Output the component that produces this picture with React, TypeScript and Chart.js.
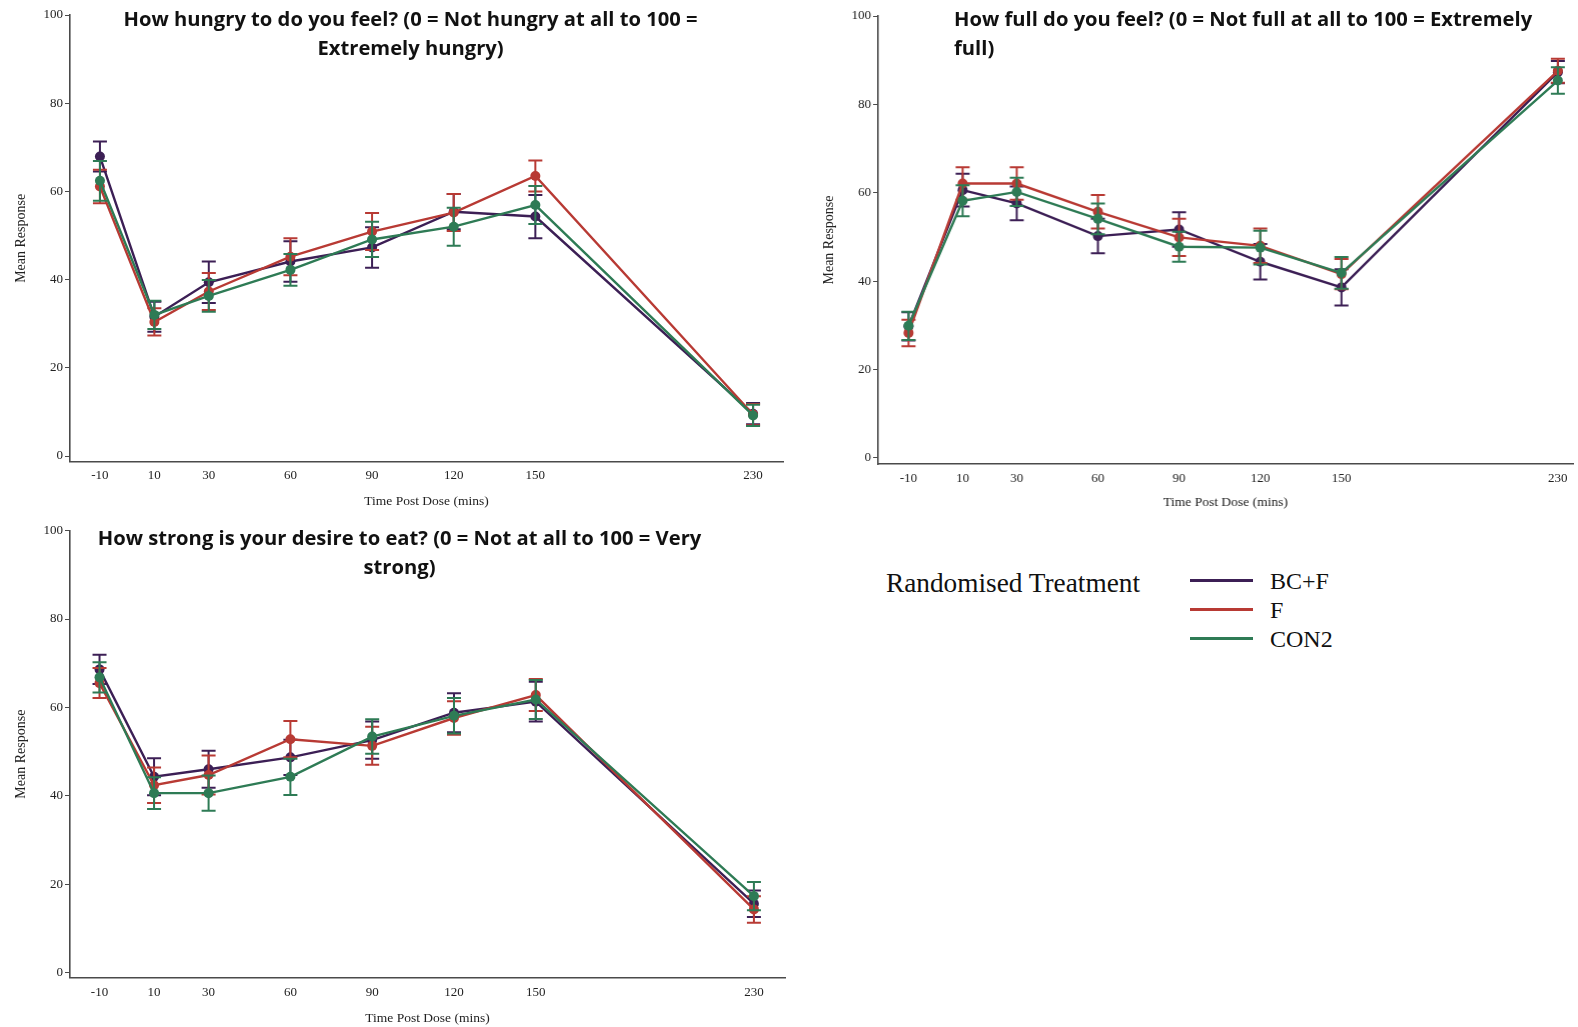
import React, { useEffect, useRef } from "react";
import { Chart, registerables } from "chart.js";

Chart.register(...registerables);

// ---------- data ----------
const timePoints = [-10, 10, 30, 60, 90, 120, 150, 230];
const yTickValues = [0, 20, 40, 60, 80, 100];
const seriesNames = ["BC+F", "F", "CON2"];
const seriesColors = ["#3c1f55", "#b83a34", "#2e7b55"];

// How hungry
const hungerBCF = [67.9, 31.6, 39.4, 44.1, 47.3, 55.4, 54.3, 9.6];
const hungerBCFErr = [3.4, 3.4, 4.7, 4.6, 4.6, 4.0, 4.9, 2.4];
const hungerF = [61.1, 30.4, 37.3, 45.2, 50.9, 55.2, 63.5, 9.4];
const hungerFErr = [3.8, 3.1, 4.2, 4.2, 4.2, 4.2, 3.5, 2.4];
const hungerCON2 = [62.4, 32.0, 36.3, 42.2, 49.1, 52.0, 56.9, 9.2];
const hungerCON2Err = [4.5, 3.2, 3.6, 3.6, 4.0, 4.3, 4.3, 2.4];

// How full
const fullBCF = [29.8, 60.6, 57.6, 50.2, 51.7, 44.4, 38.6, 87.3];
const fullBCFErr = [3.2, 3.7, 3.8, 3.9, 3.9, 4.0, 4.1, 2.5];
const fullF = [28.3, 62.1, 62.1, 55.7, 49.9, 48.0, 41.6, 87.6];
const fullFErr = [3.0, 3.7, 3.7, 3.8, 4.2, 3.9, 3.4, 2.7];
const fullCON2 = [29.9, 58.2, 60.2, 54.1, 47.8, 47.6, 41.9, 85.4];
const fullCON2Err = [3.2, 3.5, 3.2, 3.5, 3.4, 3.8, 3.6, 3.0];

// Desire to eat
const desireBCF = [68.6, 44.3, 46.0, 48.7, 52.6, 58.8, 61.3, 15.6];
const desireBCFErr = [3.3, 4.2, 4.2, 4.0, 4.2, 4.4, 4.5, 3.0];
const desireF = [65.5, 42.4, 44.7, 52.8, 51.3, 57.6, 62.8, 14.3];
const desireFErr = [3.4, 4.0, 4.4, 4.1, 4.3, 3.8, 3.6, 3.0];
const desireCON2 = [66.8, 40.6, 40.6, 44.3, 53.4, 58.1, 61.8, 17.3];
const desireCON2Err = [3.4, 3.6, 4.0, 4.1, 3.9, 4.0, 4.4, 3.2];

const titleHunger = ["How hungry to do you feel? (0 = Not hungry at all to 100 =", "Extremely hungry)"];
const titleFull = ["How full do you feel? (0 = Not full at all to 100 = Extremely", "full)"];
const titleDesire = ["How strong is your desire to eat? (0 = Not at all to 100 = Very", "strong)"];
const xAxisTitle = "Time Post Dose (mins)";
const yAxisTitle = "Mean Response";
const legendTitle = "Randomised Treatment";

// ---------- styling ----------
const SERIF = "'Liberation Serif', 'Times New Roman', serif";
const SANS = "'Open Sans', 'Noto Sans', sans-serif";
const AXIS = "#4a4a4a";
const TEXT = "#222222";

const errorBarPlugin = {
  id: "errorBars",
  beforeDatasetDraw(chart: any, args: any) {
    const ds: any = chart.data.datasets[args.index];
    const errs: number[] = ds.errors;
    if (!errs) return;
    const { ctx } = chart;
    const x = chart.scales.x;
    const y = chart.scales.y;
    ctx.save();
    ctx.strokeStyle = ds.borderColor;
    ctx.lineWidth = 2;
    const cap = 7;
    ds.data.forEach((p: any, i: number) => {
      const px = x.getPixelForValue(p.x);
      const top = y.getPixelForValue(p.y + errs[i]);
      const bot = y.getPixelForValue(p.y - errs[i]);
      ctx.beginPath();
      ctx.moveTo(px, top);
      ctx.lineTo(px, bot);
      ctx.moveTo(px - cap, top);
      ctx.lineTo(px + cap, top);
      ctx.moveTo(px - cap, bot);
      ctx.lineTo(px + cap, bot);
      ctx.stroke();
    });
    ctx.restore();
  },
};

type PanelProps = {
  left: number;
  top: number;
  width: number;
  height: number;
  padTop: number;
  padRight: number;
  xMin: number;
  xMax: number;
  yMin: number;
  xAxisHeight: number;
  xLabelPad: number;
  xTitlePadBottom: number;
  values: number[][];
  errors: number[][];
};

function Panel(props: PanelProps) {
  const ref = useRef<HTMLCanvasElement | null>(null);
  useEffect(() => {
    if (!ref.current) return;
    const datasets = seriesNames.map((name, si) => ({
      label: name,
      data: timePoints.map((t, i) => ({ x: t, y: props.values[si][i] })),
      errors: props.errors[si],
      borderColor: seriesColors[si],
      backgroundColor: seriesColors[si],
      pointBackgroundColor: seriesColors[si],
      pointBorderWidth: 0,
      pointRadius: 5,
      borderWidth: 2.4,
      tension: 0,
      order: 2 - si,
    }));
    const chart = new Chart(ref.current, {
      type: "line",
      data: { datasets: datasets as any },
      plugins: [errorBarPlugin as any],
      options: {
        animation: false,
        responsive: false,
        maintainAspectRatio: false,
        layout: { padding: { top: props.padTop, right: props.padRight, left: 0, bottom: 0 } },
        plugins: { legend: { display: false }, tooltip: { enabled: false } },
        scales: {
          x: {
            type: "linear",
            min: props.xMin,
            max: props.xMax,
            afterBuildTicks: (s: any) => {
              s.ticks = timePoints.map((v) => ({ value: v }));
            },
            afterFit: (s: any) => {
              s.height = props.xAxisHeight;
            },
            grid: { display: false, drawTicks: false },
            border: { display: true, color: AXIS, width: 1.6 },
            ticks: {
              autoSkip: false,
              maxRotation: 0,
              padding: props.xLabelPad,
              color: TEXT,
              font: { family: SERIF, size: 13 },
            },
            title: {
              display: true,
              text: xAxisTitle,
              color: TEXT,
              font: { family: SERIF, size: 13.5 },
              padding: { top: 0, bottom: props.xTitlePadBottom },
            },
          },
          y: {
            type: "linear",
            min: props.yMin,
            max: 100,
            afterBuildTicks: (s: any) => {
              s.ticks = yTickValues.map((v) => ({ value: v }));
            },
            afterFit: (s: any) => {
              s.width = 70;
            },
            grid: { display: true, drawOnChartArea: false, drawTicks: true, tickLength: 5, color: AXIS, lineWidth: 1 },
            border: { display: true, color: AXIS, width: 1.6 },
            ticks: { padding: 2, color: TEXT, font: { family: SERIF, size: 13 } },
            title: {
              display: true,
              text: yAxisTitle,
              color: TEXT,
              font: { family: SERIF, size: 14 },
              padding: { top: 12.5, bottom: 0 },
            },
          },
        },
      } as any,
    });
    return () => chart.destroy();
  }, []);
  return (
    <canvas
      ref={ref}
      width={props.width}
      height={props.height}
      style={{ position: "absolute", left: props.left, top: props.top, width: props.width, height: props.height }}
    />
  );
}

function Title({ lines, x, y, align }: { lines: string[]; x: number; y: number; align: "center" | "left" }) {
  const style: React.CSSProperties = {
    position: "absolute",
    top: y,
    fontFamily: SANS,
    fontWeight: 700,
    fontSize: 20.2,
    lineHeight: "29px",
    color: "#111",
    whiteSpace: "nowrap",
    textAlign: align,
  };
  if (align === "center") {
    style.left = x - 400;
    style.width = 800;
  } else {
    style.left = x;
  }
  return (
    <div style={style}>
      {lines.map((l, i) => (
        <div key={i}>{l}</div>
      ))}
    </div>
  );
}

function Legend() {
  return (
    <div style={{ position: "absolute", left: 0, top: 0 }}>
      <div
        style={{
          position: "absolute",
          left: 886,
          top: 583 - 16,
          fontFamily: SERIF,
          fontSize: 27.3,
          lineHeight: "32px",
          color: "#111",
          whiteSpace: "nowrap",
        }}
      >
        {legendTitle}
      </div>
      {seriesNames.map((n, i) => (
        <div key={n}>
          <div
            style={{
              position: "absolute",
              left: 1190,
              top: 580 + i * 29 - 1,
              width: 63,
              height: 2.5,
              background: seriesColors[i],
            }}
          />
          <div
            style={{
              position: "absolute",
              left: 1270,
              top: 581 + i * 29 - 14,
              fontFamily: SERIF,
              fontSize: 24,
              lineHeight: "28px",
              color: "#111",
              whiteSpace: "nowrap",
            }}
          >
            {n}
          </div>
        </div>
      ))}
    </div>
  );
}

export default function App() {
  return (
    <div style={{ position: "absolute", left: 0, top: 0, width: 1578, height: 1027, background: "#fff", overflow: "hidden" }}>
      <Panel
        left={0}
        top={0}
        width={790}
        height={515}
        padTop={15}
        padRight={7}
        xMin={-21}
        xMax={241}
        yMin={-1.29}
        xAxisHeight={53.3}
        xLabelPad={6.5}
        xTitlePadBottom={5.8}
        values={[hungerBCF, hungerF, hungerCON2]}
        errors={[hungerBCFErr, hungerFErr, hungerCON2Err]}
      />
      <Panel
        left={808.4}
        top={0}
        width={769.6}
        height={515}
        padTop={16}
        padRight={1}
        xMin={-21.25}
        xMax={235.6}
        yMin={-1.36}
        xAxisHeight={51}
        xLabelPad={6.5}
        xTitlePadBottom={4}
        values={[fullBCF, fullF, fullCON2]}
        errors={[fullBCFErr, fullFErr, fullCON2Err]}
      />
      <Panel
        left={0}
        top={515}
        width={790}
        height={512}
        padTop={15.6}
        padRight={3}
        xMin={-20.83}
        xMax={241.4}
        yMin={-1.15}
        xAxisHeight={49.3}
        xLabelPad={7}
        xTitlePadBottom={0.5}
        values={[desireBCF, desireF, desireCON2]}
        errors={[desireBCFErr, desireFErr, desireCON2Err]}
      />
      <Title lines={titleHunger} x={410.6} y={3.5} align="center" />
      <Title lines={titleFull} x={954} y={3.5} align="left" />
      <Title lines={titleDesire} x={399.5} y={523} align="center" />
      <Legend />
    </div>
  );
}
